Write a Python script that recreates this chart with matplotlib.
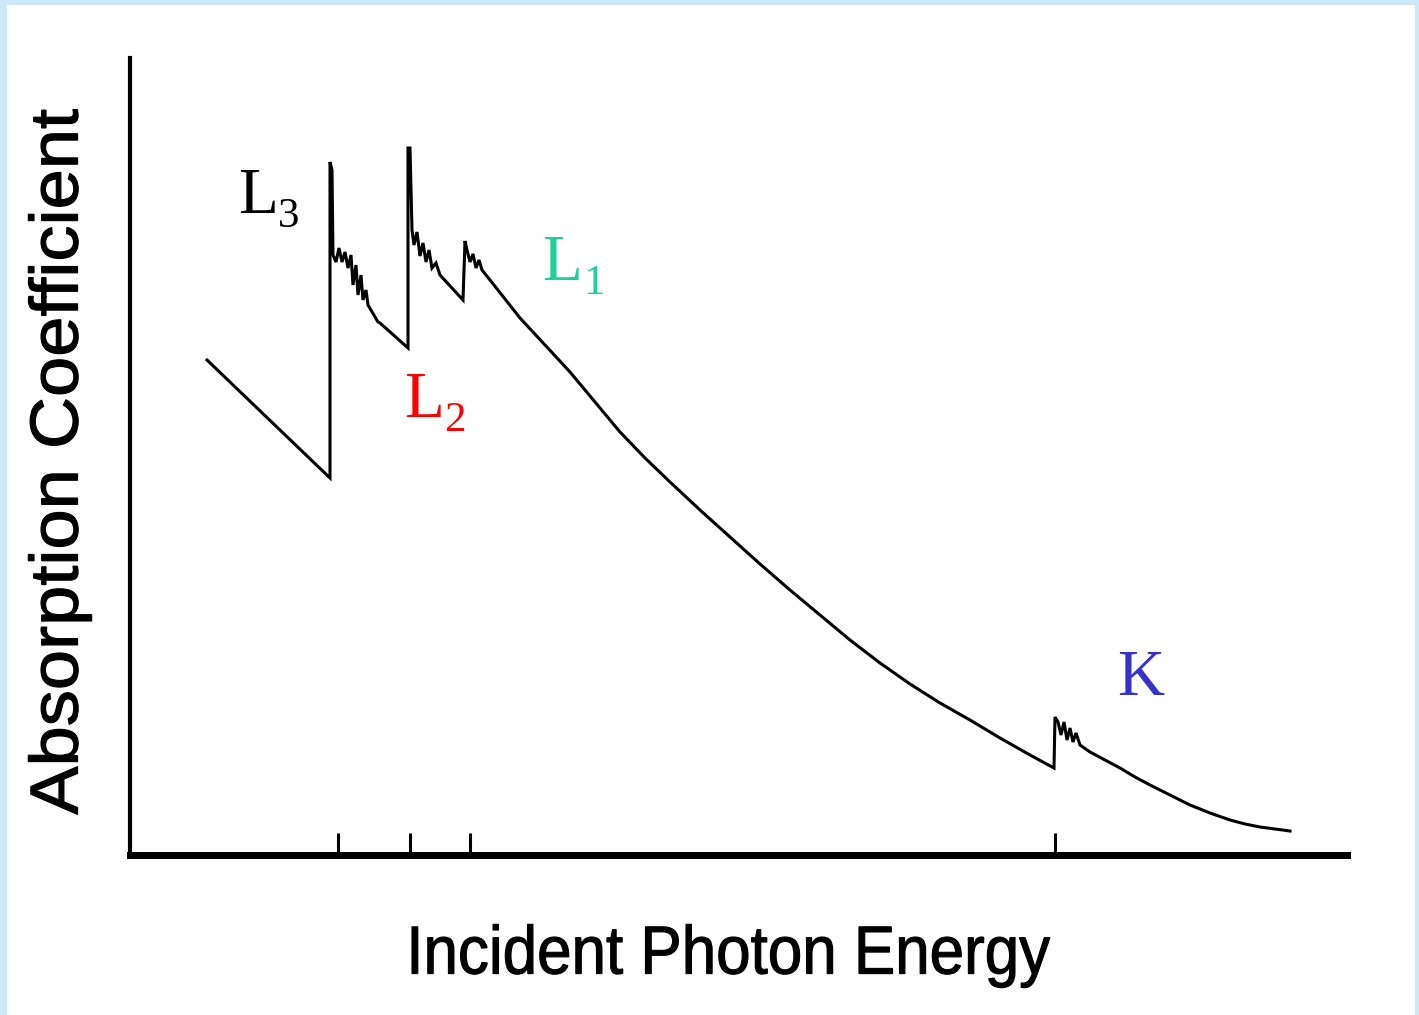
import numpy as np
import matplotlib
matplotlib.use('Agg')
import matplotlib.pyplot as plt
from matplotlib.patches import Rectangle, PathPatch
from matplotlib.textpath import TextPath
from matplotlib.font_manager import FontProperties
from matplotlib.transforms import Affine2D, IdentityTransform

# absorption spectrum (arbitrary units)
energy = [77, 200, 200, 202, 203, 206, 209, 212, 215, 218, 221, 223, 226, 228, 231, 233, 236, 238,
          248, 250, 278,
          278, 280, 282, 284, 287, 290, 293, 296, 299, 302, 306, 310, 333,
          335, 337, 340, 343, 346, 349, 352, 360,
          390, 415, 440, 465, 490, 515, 540, 570, 600, 630, 660, 690, 720, 750, 780, 810, 840,
          870, 900, 924,
          925, 928, 931, 934, 937, 940, 943, 946, 950, 960, 975, 990, 1005, 1020, 1040, 1060,
          1080, 1100, 1115, 1130, 1145, 1160]
absorption = [495, 377, 693, 685, 600, 593, 607, 593, 603, 587, 600, 570, 590, 560, 580, 555, 565, 550,
              533, 532, 507,
              707, 707, 625, 610, 623, 599, 612, 593, 605, 587, 592, 580, 555,
              614, 605, 593, 601, 587, 595, 585, 575,
              537, 510, 483, 453, 423, 397, 373, 345, 318, 291, 265, 240, 215, 192, 171, 152, 135,
              117, 100, 87,
              138, 133, 120, 133, 115, 127, 113, 122, 110, 103, 95, 87, 78, 70, 60, 50,
              42, 35, 31, 28, 26, 24]

edge_ticks = [208, 280, 340, 925]

edge_labels = ['L', 'L', 'L', 'K']
edge_subs = ['3', '2', '1', '']
edge_colors = ['black', '#ff0000', '#1ecf9c', '#3333cc']
label_pos = [(238, 213), (404, 417), (542, 280), (1117, 695)]  # figure pixels (x, baseline y from top)
sub_dx = [40, 40, 41, 0]

W, H = 1419, 1015
fig = plt.figure(figsize=(W / 100, H / 100), dpi=100, facecolor='#cce9fb')
fig.patches.append(Rectangle((7 / W, 0), 1408 / W, 1010 / H, transform=fig.transFigure,
                             facecolor='white', edgecolor='none', zorder=-10))

ax = fig.add_axes([130 / W, 160 / H, 1217 / W, 797 / H])
ax.patch.set_alpha(0)
ax.plot(energy, absorption, color='black', lw=2.2, solid_joinstyle='miter')
ax.set_xlim(0, 1217)
ax.set_ylim(0, 797)

for s in ['top', 'right']:
    ax.spines[s].set_visible(False)
ax.spines['left'].set_linewidth(3)
ax.spines['bottom'].set_linewidth(5)

ax.set_xticks(edge_ticks)
ax.set_xticklabels([])
ax.tick_params(axis='x', direction='in', length=16, width=2.2, color='black')
ax.set_yticks([])


def squeezed_label(text, cx, cy, length, angle=0):
    # condensed sans label: text path stretched to the given length, centred at pixel (cx, cy from top)
    tp = TextPath((0, 0), text, size=68, prop=FontProperties(family='Liberation Sans'))
    bb = tp.get_extents()
    tr = (Affine2D().translate(-(bb.x0 + bb.x1) / 2, -(bb.y0 + bb.y1) / 2)
          .scale(length / bb.width, 1).rotate_deg(angle).translate(cx, H - cy))
    fig.patches.append(PathPatch(tr.transform_path(tp), transform=IdentityTransform(),
                                 facecolor='black', edgecolor='black', lw=0.8))


squeezed_label('Absorption Coefficient', 60, 462, 705, angle=90)
squeezed_label('Incident Photon Energy', 731, 956, 638)

serif = ['Liberation Serif', 'DejaVu Serif']
for lab, sub, col, dx, (px, py) in zip(edge_labels, edge_subs, edge_colors, sub_dx, label_pos):
    fig.text(px / W, 1 - py / H, lab, ha='left', va='baseline', fontsize=47,
             family=serif, color=col)
    if sub:
        fig.text((px + dx) / W, 1 - (py + 14) / H, sub, ha='left', va='baseline',
                 fontsize=31, family=serif, color=col)

fig.savefig('out.png', dpi=100, facecolor=fig.get_facecolor())
